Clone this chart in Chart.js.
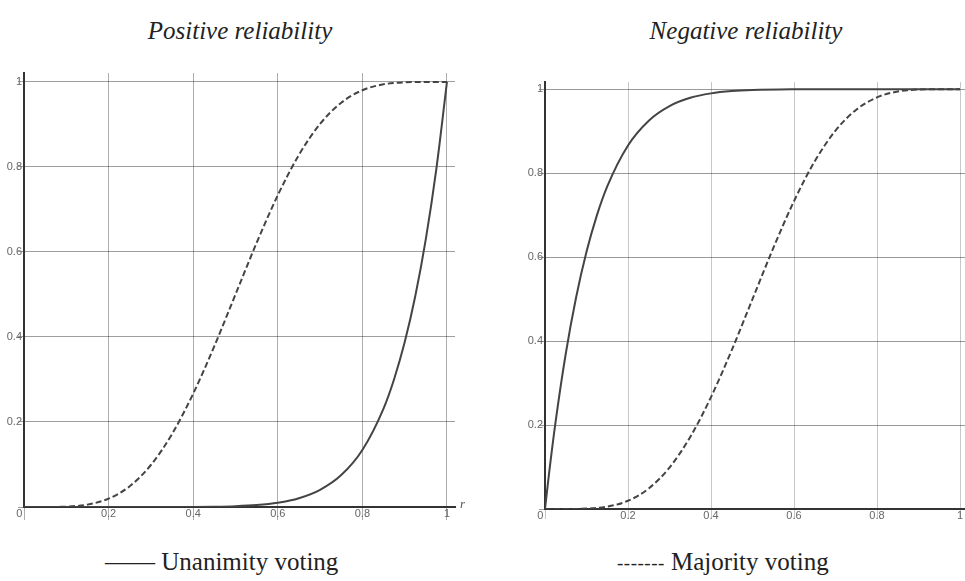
<!DOCTYPE html>
<html>
<head>
<meta charset="utf-8">
<script src="https://cdn.jsdelivr.net/npm/chart.js@4"></script>
<style>
  html, body { margin: 0; padding: 0; background: #fff; }
  body { width: 965px; height: 581px; position: relative; overflow: hidden; }
  canvas { position: absolute; }
  .title { position: absolute; top: 17px; font-family: "Liberation Serif", serif; font-style: italic; font-size: 25px; color: #222; white-space: nowrap; transform: translateX(-50%); }
  .leg { position: absolute; top: 548px; font-family: "Liberation Serif", serif; font-size: 25px; color: #222; white-space: nowrap; }
  .dash { font-style: italic; font-size: 19px; letter-spacing: 0.5px; position: relative; top: -1px; }
  .em { display: inline-block; width: 42px; height: 0; border-top: 2px solid #222; vertical-align: 6px; margin-right: 5px; }
  .rlab { position: absolute; left: 460px; top: 496px; font-family: "Liberation Serif", serif; font-style: italic; font-size: 13px; color: #555; }
</style>
</head>
<body>
<div class="title" style="left:240px">Positive reliability</div>
<div class="title" style="left:746px">Negative reliability</div>
<canvas id="c1" width="470" height="480" style="left:0px;top:60px;width:470px;height:480px"></canvas>
<canvas id="c2" width="465" height="480" style="left:500px;top:60px;width:465px;height:480px"></canvas>
<div class="rlab">r</div>
<div class="leg" style="left:105px">—— Unanimity voting</div>
<div class="leg" style="left:617px"><span class="dash">-------</span> Majority voting</div>
<script>
// ---- data ----
const tickValues = [0, 0.2, 0.4, 0.6, 0.8, 1];
const tickLabels = ["0", "0.2", "0.4", "0.6", "0.8", "1"];

const majorityR = [0,0.05,0.1,0.15,0.2,0.25,0.3,0.35,0.4,0.45,0.5,0.55,0.6,0.65,0.7,0.75,0.8,0.85,0.9,0.95,1];
const majorityP = [0,0.00003,0.0009,0.0056,0.0196,0.0489,0.0988,0.1717,0.2666,0.3786,0.5,0.6214,0.7334,0.8283,0.9012,0.9511,0.9804,0.9944,0.9991,0.99997,1];

const posUnanR = [0,0.1,0.2,0.3,0.4,0.45,0.5,0.55,0.6,0.65,0.7,0.75,0.8,0.85,0.875,0.9,0.925,0.95,0.975,1];
const posUnanP = [0,0,0,0.00002,0.00026,0.00076,0.00195,0.0046,0.0101,0.0207,0.0404,0.0751,0.1342,0.2316,0.3007,0.3874,0.4958,0.6302,0.796,1];

const negUnanR = [0,0.01,0.025,0.05,0.075,0.1,0.125,0.15,0.2,0.25,0.3,0.35,0.4,0.45,0.5,0.6,0.7,0.8,0.9,1];
const negUnanP = [0,0.0865,0.204,0.3698,0.5042,0.6126,0.6993,0.7684,0.8658,0.9249,0.9596,0.9793,0.9899,0.9954,0.998,0.9997,1,1,1,1];

const toPts = (xs, ys) => xs.map((x, i) => ({ x: x, y: ys[i] }));

function labelFor(v, axis) {
  const i = tickValues.findIndex(t => Math.abs(t - v) < 1e-6);
  if (i < 0) return '';
  if (i === 0) return axis === 'x' ? '0   ' : '';
  return tickLabels[i];
}
function keepTicks(scale) {
  scale.ticks = scale.ticks.filter(t => tickValues.some(v => Math.abs(v - t.value) < 1e-6));
}

function makeChart(id, cfg) {
  const ctx = document.getElementById(id);
  return new Chart(ctx, {
    type: 'scatter',
    data: {
      datasets: [
        { data: cfg.solid, showLine: true, borderColor: '#444', borderWidth: 2, pointRadius: 0, cubicInterpolationMode: 'monotone', fill: false },
        { data: cfg.dashed, showLine: true, borderColor: '#444', borderWidth: 2, borderDash: [6, 3], pointRadius: 0, cubicInterpolationMode: 'monotone', fill: false }
      ]
    },
    options: {
      responsive: false,
      animation: false,
      devicePixelRatio: 1,
      layout: { padding: cfg.padding },
      plugins: { legend: { display: false }, tooltip: { enabled: false } },
      scales: {
        x: {
          type: 'linear', min: 0, max: cfg.xMax,
          afterBuildTicks: keepTicks,
          afterFit: s => { s.height = cfg.xHeight; },
          grid: { color: cfg.vGrid, lineWidth: 1, tickLength: cfg.xTick, drawTicks: true },
          border: { display: true, color: '#333', width: 2 },
          ticks: { stepSize: 0.2, includeBounds: false, autoSkip: false, maxRotation: 0, padding: -cfg.xTick, color: '#666', font: { family: 'Liberation Sans', size: 11 }, callback: v => labelFor(v, 'x') }
        },
        y: {
          type: 'linear', min: 0, max: cfg.yMax,
          afterBuildTicks: keepTicks,
          afterFit: s => { s.width = cfg.yWidth; },
          grid: { color: cfg.hGrid, lineWidth: 1, tickLength: 6 },
          border: { display: true, color: '#333', width: 2 },
          ticks: { stepSize: 0.2, includeBounds: false, autoSkip: false, padding: -4, color: '#666', font: { family: 'Liberation Sans', size: 11 }, callback: v => labelFor(v, 'y') }
        }
      }
    }
  });
}

makeChart('c1', {
  solid: toPts(posUnanR, posUnanP),
  dashed: toPts(majorityR, majorityP),
  xMax: 1.019, yMax: 1.021,
  xHeight: 33, yWidth: 24, xTick: 13,
  padding: { top: 13, right: 15, left: 0, bottom: 0 },
  vGrid: 'rgba(0,0,0,0.32)', hGrid: 'rgba(0,0,0,0.38)'
});
makeChart('c2', {
  solid: toPts(negUnanR, negUnanP),
  dashed: toPts(majorityR, majorityP),
  xMax: 1.012, yMax: 1.017,
  xHeight: 31, yWidth: 45, xTick: 10,
  padding: { top: 22, right: 0, left: 0, bottom: 0 },
  vGrid: 'rgba(0,0,0,0.22)', hGrid: 'rgba(0,0,0,0.4)'
});
</script>
</body>
</html>
